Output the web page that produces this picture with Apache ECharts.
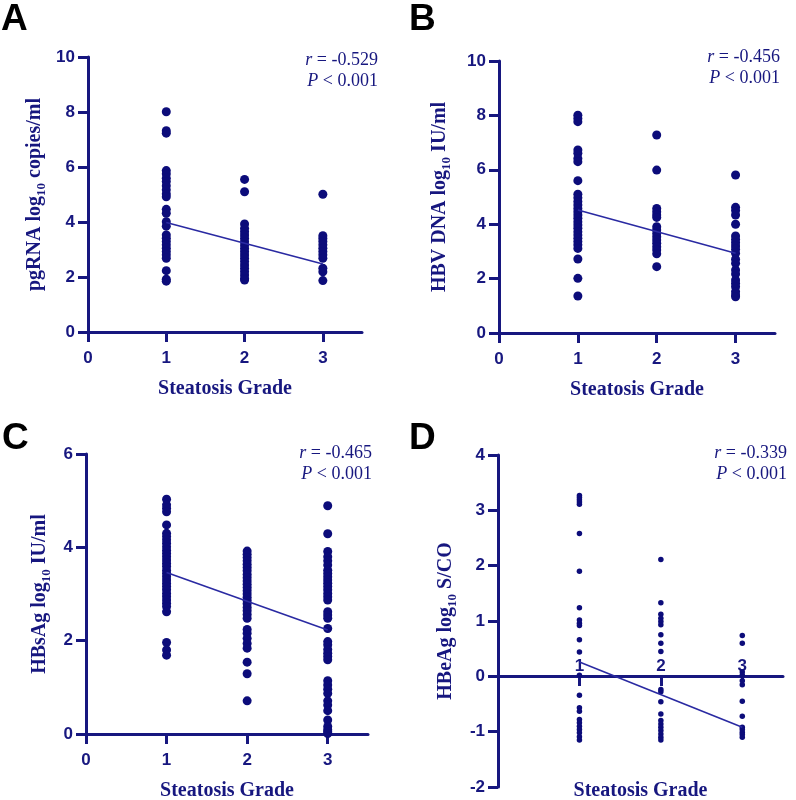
<!DOCTYPE html>
<html><head><meta charset="utf-8">
<script src="https://cdn.jsdelivr.net/npm/echarts@6/dist/echarts.min.js"></script>
<style>html,body{margin:0;padding:0;background:#fff}#c{width:796px;height:800px}</style>
</head><body><div id="c"></div>
<script>
// ---- data (Steatosis grade 1, 2, 3) ----
var gradeTicks = [0, 1, 2, 3];
var A1 = [8.01, 7.32, 7.23, 5.87, 5.75, 5.59, 5.47, 5.32, 5.17, 5.02, 4.92, 4.46, 4.32, 4.01, 3.85, 3.53, 3.41, 3.29, 3.17, 3.05, 2.93, 2.81, 2.68, 2.23, 1.92, 1.85];
var A2 = [5.55, 5.10, 3.93, 3.77, 3.65, 3.53, 3.41, 3.28, 3.16, 3.04, 2.92, 2.80, 2.68, 2.56, 2.44, 2.32, 2.19, 2.07, 1.95, 1.89];
var A3 = [5.01, 3.50, 3.40, 3.29, 3.17, 3.05, 2.93, 2.81, 2.68, 2.32, 2.19, 1.87];
var trendA = [3.98, 2.47];

var B1 = [8.01, 7.89, 7.77, 6.73, 6.61, 6.42, 6.30, 5.60, 5.10, 4.97, 4.83, 4.71, 4.58, 4.46, 4.34, 4.22, 4.09, 3.97, 3.85, 3.72, 3.60, 3.48, 3.36, 3.24, 3.11, 2.72, 2.01, 1.36];
var B2 = [7.28, 5.99, 4.58, 4.46, 4.34, 4.25, 3.91, 3.79, 3.66, 3.54, 3.42, 3.30, 3.17, 3.05, 2.91, 2.44];
var B3 = [5.81, 4.62, 4.50, 4.34, 4.00, 3.57, 3.44, 3.32, 3.20, 3.08, 2.93, 2.71, 2.56, 2.32, 2.17, 1.95, 1.83, 1.70, 1.52, 1.40, 1.33];
var trendB = [4.52, 2.93];

var C1 = [5.03, 4.91, 4.84, 4.76, 4.48, 4.30, 4.23, 4.16, 4.09, 4.01, 3.94, 3.87, 3.80, 3.73, 3.66, 3.59, 3.51, 3.44, 3.37, 3.30, 3.23, 3.16, 3.09, 3.01, 2.94, 2.87, 2.80, 2.73, 2.62, 1.96, 1.80, 1.69];
var C2 = [3.92, 3.85, 3.78, 3.71, 3.64, 3.57, 3.50, 3.42, 3.35, 3.28, 3.21, 3.14, 3.07, 3.00, 2.93, 2.86, 2.79, 2.71, 2.64, 2.56, 2.48, 2.24, 2.16, 2.05, 1.94, 1.84, 1.54, 1.29, 0.71];
var C3 = [4.89, 4.29, 3.91, 3.80, 3.71, 3.62, 3.51, 3.44, 3.37, 3.30, 3.23, 3.16, 3.09, 3.01, 2.94, 2.87, 2.62, 2.55, 2.48, 2.26, 1.98, 1.91, 1.81, 1.73, 1.66, 1.59, 1.14, 1.05, 0.96, 0.87, 0.71, 0.62, 0.50, 0.30, 0.16, 0.09, 0.05, 0.01];
var trendC = [3.46, 2.23];

var D1 = [3.27, 3.23, 3.19, 3.15, 3.11, 2.58, 1.90, 1.24, 1.02, 0.96, 0.92, 0.66, 0.44, 0.02, -0.34, -0.57, -0.63, -0.78, -0.84, -0.90, -0.96, -1.02, -1.09, -1.15];
var D2 = [2.11, 1.33, 1.12, 1.05, 0.99, 0.93, 0.75, 0.60, 0.45, -0.24, -0.28, -0.46, -0.68, -0.80, -0.86, -0.92, -0.98, -1.04, -1.10, -1.15];
var D3 = [0.74, 0.60, 0.08, 0.02, -0.08, -0.15, -0.45, -0.72, -0.92, -0.96, -1.01, -1.05, -1.10];
var trendD = [0.26, -0.92];

var yNames = ['pgRNA log{sub|10} copies/ml', 'HBV DNA log{sub|10} IU/ml', 'HBsAg log{sub|10} IU/ml', 'HBeAg log{sub|10} S/CO'];
var xName = 'Steatosis Grade';
var rTexts = ['-0.529', '-0.456', '-0.465', '-0.339'];
var pTexts = ['< 0.001', '< 0.001', '< 0.001', '< 0.001'];
var letters = ['A', 'B', 'C', 'D'];

// ---- styling / layout ----
var NAVY = '#17177f';
var DOT = '#0c0c7a';
var LINE = '#2a2aa2';
var SANS = '"Liberation Sans", Arial, sans-serif';
var SERIF = '"Liberation Serif", "Times New Roman", serif';

var panels = [
  {g: {left: 88, top: 57, width: 274, height: 275}, ymin: 0, ymax: 10, yint: 2, groups: [A1, A2, A3], trend: trendA, sym: 9, yGap: 40, xGap: 47, xOffset: 0, xLabels: [0,1,2,3], xInside: false, txt: {x: 378, y: 60}, letter: {x: 1, y: 0}},
  {g: {left: 499, top: 61, width: 276, height: 272}, ymin: 0, ymax: 10, yint: 2, groups: [B1, B2, B3], trend: trendB, sym: 9, yGap: 46, xGap: 47, xOffset: 0, xLabels: [0,1,2,3], xInside: false, txt: {x: 780, y: 57}, letter: {x: 409, y: 0}},
  {g: {left: 86, top: 454, width: 282, height: 280}, ymin: 0, ymax: 6, yint: 2, groups: [C1, C2, C3], trend: trendC, sym: 9, yGap: 33, xGap: 47, xOffset: 0, xLabels: [0,1,2,3], xInside: false, txt: {x: 372, y: 453}, letter: {x: 2, y: 419}},
  {g: {left: 498, top: 455, width: 285, height: 332}, ymin: -2, ymax: 4, yint: 1, groups: [D1, D2, D3], trend: trendD, sym: 5.5, yGap: 39, xGap: 105, xOffset: -111, xLabels: [1,2,3], xInside: true, txt: {x: 787, y: 453}, letter: {x: 409, y: 419}}
];

var grids = [], xAxes = [], yAxes = [], series = [], graphics = [];
panels.forEach(function (p, i) {
  grids.push(Object.assign({outerBoundsMode: 'none', containLabel: false}, p.g));
  xAxes.push({
    gridIndex: i, type: 'value', min: 0, max: 3.5, interval: 1, position: 'bottom', offset: p.xOffset,
    name: xName, nameLocation: 'middle', nameGap: p.xGap,
    nameTextStyle: {fontFamily: SERIF, fontWeight: 'bold', fontSize: 20, color: NAVY},
    axisLine: {onZero: false, lineStyle: {color: NAVY, width: 3}},
    axisTick: {show: true, inside: false, length: 10, customValues: gradeTicks, lineStyle: {color: NAVY, width: 3}},
    axisLabel: {inside: p.xInside, margin: p.xInside ? 1 : 18, customValues: p.xLabels, fontFamily: SANS, fontWeight: 'bold', fontSize: 17, color: NAVY},
    splitLine: {show: false}
  });
  yAxes.push({
    gridIndex: i, type: 'value', min: p.ymin, max: p.ymax, interval: p.yint,
    name: yNames[i], nameLocation: 'middle', nameGap: p.yGap,
    nameTextStyle: {fontFamily: SERIF, fontWeight: 'bold', fontSize: 20, color: NAVY, lineHeight: 26,
      rich: {sub: {fontFamily: SERIF, fontWeight: 'bold', fontSize: 13, color: NAVY, lineHeight: 13, verticalAlign: 'bottom'}}},
    axisLine: {onZero: false, lineStyle: {color: NAVY, width: 3}},
    axisTick: {show: true, inside: false, length: 10, lineStyle: {color: NAVY, width: 3}},
    axisLabel: {margin: 13, fontFamily: SANS, fontWeight: 'bold', fontSize: 17, color: NAVY},
    splitLine: {show: false}
  });
  p.groups.forEach(function (vals, gi) {
    series.push({
      type: 'scatter', xAxisIndex: i, yAxisIndex: i, symbol: 'circle', symbolSize: p.sym,
      clip: false, itemStyle: {color: DOT, opacity: 1}, z: 3,
      data: vals.map(function (v) { return [gi + 1, v]; })
    });
  });
  series.push({
    type: 'line', xAxisIndex: i, yAxisIndex: i, symbol: 'none', z: 4,
    lineStyle: {color: LINE, width: 1.6},
    data: [[1, p.trend[0]], [3, p.trend[1]]]
  });
  graphics.push({
    type: 'text', left: p.letter.x, top: p.letter.y + 1,
    style: {text: letters[i], font: 'bold 37px ' + SANS, fill: '#000'}
  });
  graphics.push({
    type: 'text', x: p.txt.x, y: p.txt.y,
    style: {text: '{i|r} = ' + rTexts[i], fill: NAVY, font: '18px ' + SERIF, align: 'right', verticalAlign: 'middle',
      rich: {i: {fontStyle: 'italic', fontFamily: SERIF, fontSize: 18, fill: NAVY, color: NAVY}}}
  });
  graphics.push({
    type: 'text', x: p.txt.x, y: p.txt.y + 21,
    style: {text: '{i|P} ' + pTexts[i], fill: NAVY, font: '18px ' + SERIF, align: 'right', verticalAlign: 'middle',
      rich: {i: {fontStyle: 'italic', fontFamily: SERIF, fontSize: 18, fill: NAVY, color: NAVY}}}
  });
});

var chart = echarts.init(document.getElementById('c'), null, {renderer: 'canvas'});
chart.setOption({
  animation: false,
  backgroundColor: '#fff',
  grid: grids, xAxis: xAxes, yAxis: yAxes, series: series, graphic: graphics
});
</script>
</body></html>
